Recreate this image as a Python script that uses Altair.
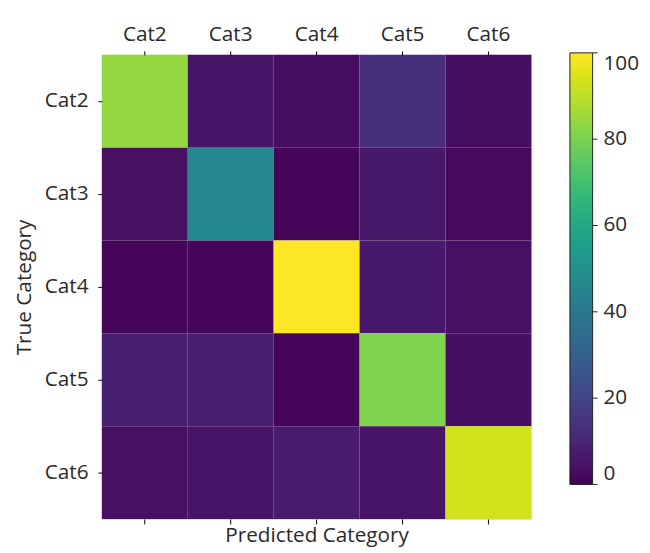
import altair as alt
import pandas as pd

categories = ["Cat2", "Cat3", "Cat4", "Cat5", "Cat6"]
row_cat2 = [84, 5, 3, 13, 3]
row_cat3 = [4, 47, 1, 6, 2]
row_cat4 = [1, 1, 100, 6, 4]
row_cat5 = [8, 8, 1, 81, 3]
row_cat6 = [4, 5, 7, 5, 93]
colorbar_ticks = [0, 20, 40, 60, 80, 100]

rows = [row_cat2, row_cat3, row_cat4, row_cat5, row_cat6]
records = []
for t, vals in zip(categories, rows):
    for p, v in zip(categories, vals):
        records.append({"True": t, "Pred": p, "v": v})
df = pd.DataFrame(records)
ticks_df = pd.DataFrame({"t": colorbar_ticks})

font = "Open Sans"
fs = 21
txt = "#2a2a2a"
xscale = alt.Scale(paddingInner=0, paddingOuter=0)
cscale = alt.Scale(scheme="viridis", domain=[0, 100])

base = alt.Chart(df)
heat = base.mark_rect().encode(
    x=alt.X("Pred:N", sort=categories, scale=xscale,
            axis=alt.Axis(orient="top", title=None, labelAngle=0, labelFontSize=fs,
                          labelFont=font, labelColor=txt, tickColor="black", tickSize=4,
                          domain=False, grid=False, labelPadding=7)),
    y=alt.Y("True:N", sort=categories, scale=alt.Scale(paddingInner=0, paddingOuter=0),
            axis=alt.Axis(title="True Category", labelFontSize=fs, labelFont=font,
                          labelColor=txt, tickColor="black", tickSize=4, domain=False,
                          grid=False, titleFont=font, titleFontSize=fs,
                          titleFontWeight="normal", titleColor=txt, titlePadding=10,
                          labelPadding=10)),
    color=alt.Color("v:Q", scale=cscale,
                    legend=alt.Legend(title=None, orient="none", legendX=474, legendY=-2,
                                      gradientLength=437, gradientThickness=23,
                                      gradientStrokeColor="#222222", gradientStrokeWidth=1,
                                      values=colorbar_ticks, labelFontSize=fs, labelFont=font,
                                      labelColor=txt, labelOffset=11, labelBaseline="middle")),
)
bottom = base.mark_rect(opacity=0).encode(
    x=alt.X("Pred:N", sort=categories, scale=xscale,
            axis=alt.Axis(orient="bottom", labels=False, title="Predicted Category",
                          tickColor="black", tickSize=5, domain=False, grid=False,
                          titleFont=font, titleFontSize=fs, titleFontWeight="normal",
                          titleColor=txt, titlePadding=0)),
)
cb_ticks = alt.Chart(ticks_df).mark_rule(color="#222222", strokeWidth=1).encode(
    y=alt.Y("t:Q", scale=alt.Scale(domain=[0, 100], range=[435, -2]), axis=None),
    x=alt.value(497),
    x2=alt.value(502),
)

chart = alt.layer(heat, bottom, cb_ticks).resolve_axis(x="independent").resolve_scale(
    y="independent"
).properties(
    width=435, height=470,
    autosize=alt.AutoSizeParams(type="none"),
    padding={"left": 95, "top": 44, "right": 112, "bottom": 31},
).configure_view(stroke="black", strokeWidth=1.2).configure(background="white")

chart.save("out.html", embed_options={"renderer": "svg", "actions": False})
